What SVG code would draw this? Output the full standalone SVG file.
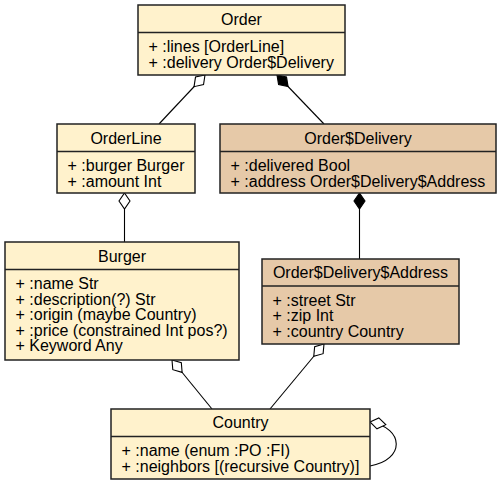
<svg xmlns="http://www.w3.org/2000/svg" width="501" height="485" viewBox="0 0 501 485">
<style>
.box{stroke:#222;stroke-width:1.5}
.light{fill:#FFF2CC}
.tan{fill:#E6C9A8}
.div{stroke:#222;stroke-width:1.5}
text{font-family:"Liberation Sans",Arial,sans-serif;font-size:16px;fill:#000}
.t{text-anchor:middle}
.edge{fill:none;stroke:#000;stroke-width:1.1}
</style>
<defs>
<marker id="odia" markerUnits="userSpaceOnUse" markerWidth="18" markerHeight="13" viewBox="-1 0 18 13" refX="0" refY="6.5" orient="auto">
<path d="M0,6.5 L8,1 L16,6.5 L8,12 Z" fill="#fff" stroke="#000" stroke-width="1.1"/>
</marker>
<marker id="fdia" markerUnits="userSpaceOnUse" markerWidth="18" markerHeight="13" viewBox="-1 0 18 13" refX="0" refY="6.5" orient="auto">
<path d="M0,6.5 L8,1 L16,6.5 L8,12 Z" fill="#000" stroke="#000" stroke-width="1.1"/>
</marker>
</defs>
<g id="connectors">
<path class="edge" marker-start="url(#odia)" d="M205,75 L159,124"/>
<path class="edge" marker-start="url(#fdia)" d="M277,75 L324,124"/>
<path class="edge" marker-start="url(#fdia)" d="M359.5,193 L359.5,259"/>
<path class="edge" marker-start="url(#odia)" d="M124.5,193 L124.5,242"/>
<path class="edge" marker-start="url(#odia)" d="M172,360 L212,409"/>
<path class="edge" marker-start="url(#odia)" d="M324,344 L270,409"/>
<path class="edge" marker-start="url(#odia)" d="M370,422 C405,428 405,460 370,466"/>
</g>
<g id="Order">
<rect class="box light" x="138" y="5" width="207" height="70"/>
<line class="div" x1="138" y1="32.5" x2="345" y2="32.5"/>
<text class="t" x="241.5" y="24.5">Order</text>
<text x="148.5" y="52">+ :lines [OrderLine]</text>
<text x="148.5" y="67.5">+ :delivery Order$Delivery</text>
</g>
<g id="OrderLine">
<rect class="box light" x="57" y="124" width="138" height="69"/>
<line class="div" x1="57" y1="151.5" x2="195" y2="151.5"/>
<text class="t" x="126" y="143.5">OrderLine</text>
<text x="67.5" y="171">+ :burger Burger</text>
<text x="67.5" y="186.5">+ :amount Int</text>
</g>
<g id="OrderDelivery">
<rect class="box tan" x="220" y="124" width="276" height="69"/>
<line class="div" x1="220" y1="151.5" x2="496" y2="151.5"/>
<text class="t" x="358" y="143.5">Order$Delivery</text>
<text x="230.5" y="171">+ :delivered Bool</text>
<text x="230.5" y="186.5">+ :address Order$Delivery$Address</text>
</g>
<g id="Burger">
<rect class="box light" x="5" y="242" width="234" height="118"/>
<line class="div" x1="5" y1="269.5" x2="239" y2="269.5"/>
<text class="t" x="122" y="261.5">Burger</text>
<text x="15.5" y="289">+ :name Str</text>
<text x="15.5" y="304.5">+ :description(?) Str</text>
<text x="15.5" y="320">+ :origin (maybe Country)</text>
<text x="15.5" y="335.5">+ :price (constrained Int pos?)</text>
<text x="15.5" y="351">+ Keyword Any</text>
</g>
<g id="OrderDeliveryAddress">
<rect class="box tan" x="262" y="259" width="197" height="85"/>
<line class="div" x1="262" y1="286" x2="459" y2="286"/>
<text class="t" x="360.5" y="278">Order$Delivery$Address</text>
<text x="272.5" y="305.5">+ :street Str</text>
<text x="272.5" y="321">+ :zip Int</text>
<text x="272.5" y="336.5">+ :country Country</text>
</g>
<g id="Country">
<rect class="box light" x="111" y="409" width="259" height="70"/>
<line class="div" x1="111" y1="436.5" x2="370" y2="436.5"/>
<text class="t" x="240.5" y="428">Country</text>
<text x="121.5" y="456">+ :name (enum :PO :FI)</text>
<text x="121.5" y="471.5">+ :neighbors [(recursive Country)]</text>
</g>
</svg>
